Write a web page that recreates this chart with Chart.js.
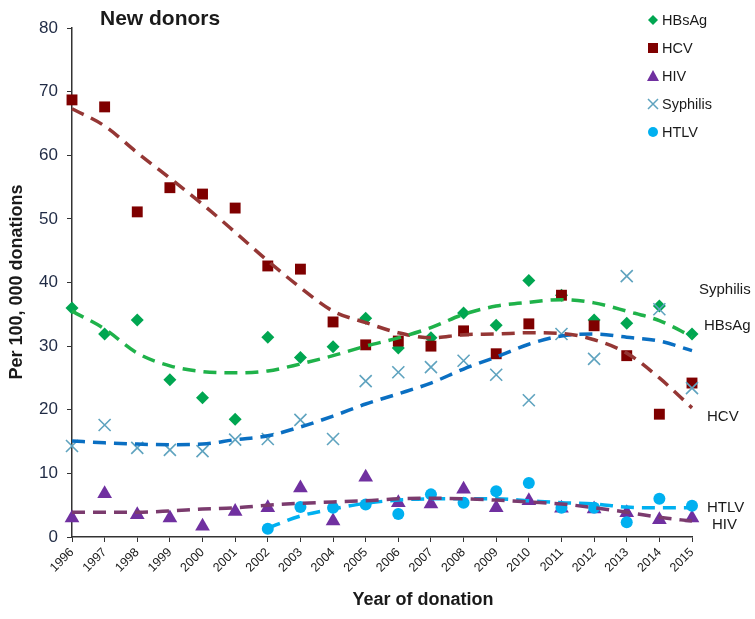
<!DOCTYPE html>
<html>
<head>
<meta charset="utf-8">
<script src="https://cdn.jsdelivr.net/npm/chart.js@4/dist/chart.umd.min.js"></script>
<style>
  html, body { margin: 0; padding: 0; background: #fff; }
  #wrap { width: 755px; height: 619px; }
</style>
</head>
<body>
<div id="wrap"><canvas id="chart" width="755" height="619"></canvas></div>
<script>
'use strict';

// years on the x axis
const years = [1996, 1997, 1998, 1999, 2000, 2001, 2002, 2003, 2004, 2005,
               2006, 2007, 2008, 2009, 2010, 2011, 2012, 2013, 2014, 2015];

// observed rates per 100,000 donations
const hbsag    = [36.0, 31.9, 34.1, 24.7, 21.9, 18.5, 31.4, 28.2, 29.9, 34.4,
                  29.7, 31.3, 35.2, 33.3, 40.3, 38.0, 34.1, 33.6, 36.3, 31.9];
const hcv      = [68.7, 67.6, 51.1, 54.9, 53.9, 51.7, 42.6, 42.1, 33.8, 30.2,
                  30.8, 30.0, 32.4, 28.8, 33.5, 38.0, 33.2, 28.5, 19.3, 24.2];
const hiv      = [3.0, 6.8, 3.5, 3.0, 1.7, 4.0, 4.6, 7.7, 2.5, 9.4,
                  5.4, 5.2, 7.5, 4.6, 5.7, 4.5, 4.4, 3.8, 2.7, 3.0];
const syphilis = [14.3, 17.6, 14.0, 13.7, 13.5, 15.3, 15.4, 18.4, 15.4, 24.5,
                  25.9, 26.7, 27.7, 25.5, 21.5, 31.9, 28.0, 41.0, 35.8, 23.4];
const htlv     = [null, null, null, null, null, null, 1.3, 4.7, 4.6, 5.1,
                  3.6, 6.7, 5.4, 7.2, 8.5, 4.6, 4.6, 2.3, 6.0, 4.9];

// trend lines
const hbsagTrend    = [35.5, 32.7, 28.9, 26.9, 26.0, 25.8, 26.1, 27.2, 28.5, 30.0,
                       31.3, 32.9, 35.0, 36.3, 36.9, 37.3, 36.8, 35.5, 34.0, 31.5];
const hcvTrend      = [67.3, 64.6, 60.4, 56.4, 52.3, 47.9, 43.4, 39.2, 35.5, 33.7,
                       32.1, 31.3, 31.8, 31.9, 32.1, 32.0, 31.0, 28.9, 25.0, 20.3];
const hivTrend      = [3.9, 3.9, 3.9, 4.1, 4.4, 4.6, 5.0, 5.3, 5.5, 5.7,
                       6.0, 6.1, 6.0, 5.8, 5.5, 5.2, 4.6, 3.9, 3.1, 2.5];
const syphilisTrend = [15.1, 14.8, 14.6, 14.5, 14.6, 15.3, 15.9, 17.3, 19.0, 20.9,
                       22.5, 24.2, 26.4, 28.3, 30.3, 31.6, 31.9, 31.4, 30.8, 29.3];
const htlvTrend     = [null, null, null, null, null, null, 1.4, 3.3, 4.4, 5.3,
                       5.8, 6.0, 6.0, 6.0, 5.7, 5.4, 5.2, 4.7, 4.6, 4.6];

const yTicks = [0, 10, 20, 30, 40, 50, 60, 70, 80];

const series = [
  { name: 'HBsAg',    vals: hbsag,    trend: hbsagTrend,    color: '#00a651', trendColor: '#1fb24a', style: 'rectRot',  r: 6.5 },
  { name: 'HCV',      vals: hcv,      trend: hcvTrend,      color: '#7f0000', trendColor: '#953735', style: 'rect',     r: 7.7 },
  { name: 'HIV',      vals: hiv,      trend: hivTrend,      color: '#7030a0', trendColor: '#7b3b6e', style: 'triangle', r: 8.5 },
  { name: 'Syphilis', vals: syphilis, trend: syphilisTrend, color: '#5fa3bf', trendColor: '#0a6fc2', style: 'crossRot', r: 8.5 },
  { name: 'HTLV',     vals: htlv,     trend: htlvTrend,     color: '#00b0f0', trendColor: '#00b0f0', style: 'circle',   r: 6 }
];

const FONT = '"Liberation Sans", Arial, sans-serif';

function pts(arr) {
  return years.map((yr, i) => ({ x: yr, y: arr[i] }));
}

const datasets = [];
series.forEach(s => {
  datasets.push({
    label: s.name + ' trend',
    data: pts(s.trend),
    showLine: true,
    borderColor: s.trendColor,
    borderWidth: 3.5,
    borderDash: [13, 8],
    pointRadius: 0,
    cubicInterpolationMode: 'monotone',
    spanGaps: false,
    clip: false,
    order: 0
  });
});
// later series sit on top of earlier ones (lower order = drawn last)
series.forEach((s, i) => {
  datasets.push({
    label: s.name,
    data: pts(s.vals),
    showLine: false,
    pointStyle: s.style,
    pointRadius: s.r,
    pointBorderWidth: s.style === 'crossRot' ? 1.6 : 0,
    backgroundColor: s.color,
    borderColor: s.color,
    clip: false,
    order: 10 - i
  });
});

const textPlugin = {
  id: 'texts',
  afterDraw(chart) {
    const ctx = chart.ctx;
    ctx.save();
    ctx.fillStyle = '#1a1a1a';
    ctx.textBaseline = 'middle';

    // panel title
    ctx.font = 'bold 21px ' + FONT;
    ctx.textAlign = 'left';
    ctx.fillText('New donors', 100, 19);

    // axis titles
    ctx.font = 'bold 18px ' + FONT;
    ctx.textAlign = 'center';
    ctx.fillText('Year of donation', 423, 600);
    ctx.save();
    ctx.translate(17, 282);
    ctx.rotate(-Math.PI / 2);
    ctx.fillText('Per 100, 000 donations', 0, 0);
    ctx.restore();

    // end labels
    ctx.font = '15px ' + FONT;
    ctx.textAlign = 'left';
    ctx.fillText('Syphilis', 699, 290);
    ctx.fillText('HBsAg', 704, 326);
    ctx.fillText('HCV', 707, 417);
    ctx.fillText('HTLV', 707, 508);
    ctx.fillText('HIV', 712, 525);

    // legend
    const rows = [20, 48, 76, 104, 132];
    series.forEach((s, i) => {
      const cx = 653, cy = rows[i];
      ctx.fillStyle = s.color;
      ctx.strokeStyle = s.color;
      ctx.beginPath();
      if (s.style === 'rectRot') {
        ctx.moveTo(cx, cy - 5); ctx.lineTo(cx + 5, cy); ctx.lineTo(cx, cy + 5); ctx.lineTo(cx - 5, cy);
        ctx.closePath(); ctx.fill();
      } else if (s.style === 'rect') {
        ctx.fillRect(cx - 5, cy - 5, 10, 10);
      } else if (s.style === 'triangle') {
        ctx.moveTo(cx, cy - 6); ctx.lineTo(cx + 6, cy + 5); ctx.lineTo(cx - 6, cy + 5);
        ctx.closePath(); ctx.fill();
      } else if (s.style === 'crossRot') {
        ctx.lineWidth = 1.5;
        ctx.moveTo(cx - 5, cy - 5); ctx.lineTo(cx + 5, cy + 5);
        ctx.moveTo(cx + 5, cy - 5); ctx.lineTo(cx - 5, cy + 5);
        ctx.stroke();
      } else {
        ctx.arc(cx, cy, 5, 0, Math.PI * 2); ctx.fill();
      }
      ctx.fillStyle = '#1a1a1a';
      ctx.font = '14.5px ' + FONT;
      ctx.fillText(s.name, 662, cy + 1);
    });
    ctx.restore();
  }
};

new Chart(document.getElementById('chart'), {
  type: 'scatter',
  data: { datasets: datasets },
  options: {
    responsive: false,
    animation: false,
    layout: { padding: { top: 28, right: 63, bottom: 0, left: 0 } },
    plugins: { legend: { display: false }, tooltip: { enabled: false } },
    scales: {
      x: {
        type: 'linear',
        min: 1996,
        max: 2015,
        afterBuildTicks: axis => { axis.ticks = years.map(v => ({ value: v })); },
        afterFit: axis => { axis.height = 82; },
        ticks: {
          callback: v => String(v),
          minRotation: 45,
          maxRotation: 45,
          color: '#1a1a1a',
          font: { size: 12.5, family: FONT },
          padding: 3
        },
        grid: { display: true, drawOnChartArea: false, drawTicks: true, tickLength: 5, color: '#333' },
        border: { color: '#333', width: 1.5 }
      },
      y: {
        min: 0,
        max: 80,
        afterBuildTicks: axis => { axis.ticks = yTicks.map(v => ({ value: v })); },
        afterFit: axis => { axis.width = 72; },
        ticks: {
          color: '#1f2a44',
          font: { size: 17, family: FONT },
          padding: 9
        },
        grid: { display: true, drawOnChartArea: false, drawTicks: true, tickLength: 5, color: '#333' },
        border: { color: '#333', width: 1.5 }
      }
    }
  },
  plugins: [textPlugin]
});
</script>
</body>
</html>
